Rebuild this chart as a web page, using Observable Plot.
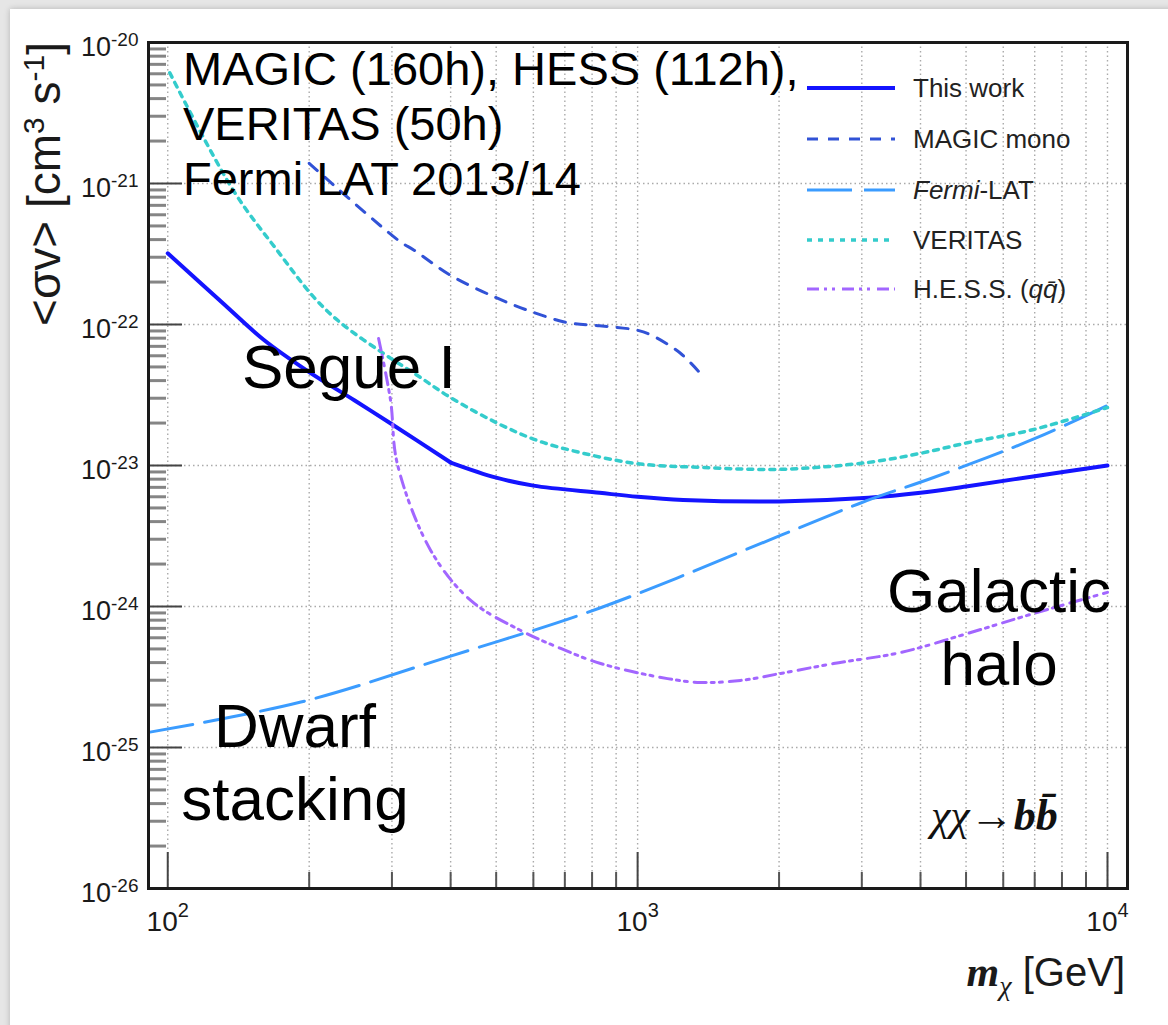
<!DOCTYPE html>
<html><head><meta charset="utf-8">
<script src="https://cdn.jsdelivr.net/npm/d3@7"></script>
<script src="https://cdn.jsdelivr.net/npm/@observablehq/plot@0.6"></script>
<style>
html,body{margin:0;padding:0;background:#e6e6e6;}
#wrap{position:relative;width:1168px;height:1025px;overflow:hidden;background:#e6e6e6;}
#paper{position:absolute;left:10px;top:9px;width:1180px;height:1040px;background:#fff;box-shadow:0 0 6px rgba(0,0,0,0.22);}
#chart{position:absolute;left:0;top:0;}
</style></head><body>
<div id="wrap"><div id="paper"></div><div id="chart"></div></div>
<script>
// ---- axis ticks ----
const xMajor = [100, 1000, 10000];
const xMinor = [200, 300, 400, 500, 600, 700, 800, 900, 2000, 3000, 4000, 5000, 6000, 7000, 8000, 9000];
const yMajor = [1e-26, 1e-25, 1e-24, 1e-23, 1e-22, 1e-21, 1e-20];
const yGridDecades = [1e-25, 1e-24, 1e-23, 1e-22, 1e-21];
const yMinorMantissa = [2, 3, 4, 5, 6, 7, 8, 9];
const yMinorDecades = [-26, -25, -24, -23, -22, -21];
const yMinor = yMinorDecades.flatMap(e => yMinorMantissa.map(m => +(m + "e" + e)));
const xGrid = [...xMajor, ...xMinor];

// ---- series (m_chi in GeV, <sigma v> in cm^3 s^-1) ----
// "This work" has a kink at 400 GeV: two pieces, joined at the kink
const thisWorkMass   = [100, 130, 160, 200, 250, 300, 400, 500, 600, 830, 1000, 1250, 2000, 3100, 4000, 5000, 7000, 10000];
const thisWorkSigmaV = [3.2e-22, 1.45e-22, 7.8e-23, 4.6e-23, 2.89e-23, 1.96e-23, 1.05e-23, 8.2e-24, 7.2e-24, 6.4e-24, 6.0e-24, 5.7e-24, 5.56e-24, 5.9e-24, 6.4e-24, 7.1e-24, 8.4e-24, 1.0e-23];
const thisWorkKink = 400;

const magicMonoMass   = [200, 310, 335, 400, 500, 600, 710, 830, 1000, 1070, 1230, 1360];
const magicMonoSigmaV = [1.39e-21, 3.94e-22, 3.35e-22, 2.23e-22, 1.55e-22, 1.22e-22, 1.03e-22, 9.8e-23, 9.1e-23, 8.4e-23, 6.3e-23, 4.5e-23];

const fermiMass   = [91, 192, 400, 834, 2014, 3084, 4266, 7096, 10000];
const fermiSigmaV = [1.28e-25, 2.1e-25, 4.45e-25, 9.8e-25, 3.19e-24, 5.65e-24, 8.22e-24, 1.58e-23, 2.67e-23];

const veritasMass   = [101, 138, 171, 205, 234, 288, 340, 400, 504, 613, 767, 1000, 1361, 2014, 3084, 4000, 5035, 6965, 10000];
const veritasSigmaV = [6.1e-21, 8.9e-22, 3.35e-22, 1.55e-22, 1.02e-22, 6.22e-23, 4.35e-23, 3.03e-23, 1.99e-23, 1.5e-23, 1.22e-23, 1.03e-23, 9.7e-24, 9.4e-24, 1.05e-23, 1.22e-23, 1.45e-23, 1.8e-23, 2.58e-23];

const hessMass   = [281, 298, 308, 363, 442, 564, 686, 834, 1158, 1361, 1656, 2014, 2612, 3630, 5035, 6965, 10000];
const hessSigmaV = [7.96e-23, 2.89e-23, 1.03e-23, 2.49e-24, 1.10e-24, 6.76e-25, 5.04e-25, 3.94e-25, 3.08e-25, 2.89e-25, 2.99e-25, 3.35e-25, 3.94e-25, 4.72e-25, 6.44e-25, 8.92e-25, 1.26e-24];

const zip = (m, s) => m.map((d, i) => ({m: d, sv: s[i], seg: 0}));
const thisWorkData = [
  ...zip(thisWorkMass, thisWorkSigmaV).filter(d => d.m <= thisWorkKink),
  ...zip(thisWorkMass, thisWorkSigmaV).filter(d => d.m >= thisWorkKink).map(d => ({...d, seg: 1}))
];

const series = [
  {name: "This work",  data: thisWorkData,                        color: "#1414ff", width: 4,   dash: null},
  {name: "MAGIC mono", data: zip(magicMonoMass, magicMonoSigmaV), color: "#3152d6", width: 3,   dash: "11,10"},
  {name: "Fermi-LAT",  data: zip(fermiMass, fermiSigmaV),         color: "#3b9cff", width: 3,   dash: "45,12"},
  {name: "VERITAS",    data: zip(veritasMass, veritasSigmaV),     color: "#34cccc", width: 3.5, dash: "5,6"},
  {name: "H.E.S.S.",   data: zip(hessMass, hessSigmaV),           color: "#a266ff", width: 3,   dash: "12,5,3,5,3,7"}
];

const W = 1168, H = 1025, mL = 148, mR = 41, mT = 42, mB = 137;
const PW = W - mL - mR, PH = H - mT - mB;
const expFmt = d => "10^" + Math.round(Math.log10(d));

const svg = Plot.plot({
  width: W, height: H,
  marginLeft: mL, marginRight: mR, marginTop: mT, marginBottom: mB,
  x: {type: "log", domain: [91, 11030]},
  y: {type: "log", domain: [1e-26, 1e-20]},
  style: {background: "transparent", fontFamily: "'Liberation Sans', Arial, sans-serif", color: "#1a1a1a"},
  marks: [
    Plot.ruleX(xGrid, {stroke: "#aaaaaa", strokeWidth: 1.4, strokeDasharray: "1.5,3"}),
    Plot.ruleY(yGridDecades, {stroke: "#aaaaaa", strokeWidth: 1.4, strokeDasharray: "1.5,3"}),
    Plot.ruleX(xMajor, {stroke: "#444", strokeWidth: 2, insetTop: PH - 36}),
    Plot.ruleX(xMinor, {stroke: "#555", strokeWidth: 2, insetTop: PH - 16}),
    Plot.ruleY(yMajor, {stroke: "#444", strokeWidth: 2.2, insetRight: PW - 34}),
    Plot.ruleY(yMinor, {stroke: "#858585", strokeWidth: 3, insetRight: PW - 18}),
    ...series.map(s => Plot.line(s.data, {
      x: "m", y: "sv", z: "seg", stroke: s.color, strokeWidth: s.width,
      strokeDasharray: s.dash, curve: "catmull-rom", clip: true
    })),
    Plot.frame({stroke: "#1a1a1a", strokeWidth: 3}),
    Plot.axisX({ticks: xMajor, tickSize: 0, tickPadding: 23, fontSize: 28, tickFormat: expFmt, label: null}),
    Plot.axisY({ticks: yMajor, tickSize: 0, tickPadding: 10, fontSize: 27, tickFormat: expFmt, label: null})
  ]
});
document.getElementById("chart").appendChild(svg);

// ---- superscripts for tick labels ----
const NS = "http://www.w3.org/2000/svg";
function supLabels(sel, dyBase, dySup, supSize) {
  svg.querySelectorAll(sel).forEach(t => {
    const s = t.textContent, i = s.indexOf("^");
    if (i < 0) return;
    t.textContent = "";
    const a = document.createElementNS(NS, "tspan");
    a.textContent = s.slice(0, i);
    if (dyBase) a.setAttribute("dy", dyBase);
    const b = document.createElementNS(NS, "tspan");
    b.textContent = s.slice(i + 1);
    b.setAttribute("dy", dySup);
    b.setAttribute("font-size", supSize);
    t.append(a, b);
  });
}
supLabels('g[aria-label="x-axis tick label"] text', 0, -14, 20);
supLabels('g[aria-label="y-axis tick label"] text', 5, -10, 19);

// ---- overlay: titles, annotations, legend ----
const root = d3.select(svg).append("g").attr("text-anchor", "start");
const sans = "'Liberation Sans', Arial, sans-serif";
const serif = "'Liberation Serif', 'Times New Roman', serif";

// y title
const yt = root.append("text").attr("transform", `translate(60,${mT}) rotate(-90)`)
  .attr("text-anchor", "end").attr("font-family", sans).attr("font-size", 46).attr("fill", "#1a1a1a");
yt.append("tspan").text("<σv> [cm");
yt.append("tspan").attr("dy", -16).attr("font-size", 30).text("3");
yt.append("tspan").attr("dy", 16).text(" s");
yt.append("tspan").attr("dy", -16).attr("font-size", 30).text("-1");
yt.append("tspan").attr("dy", 16).text("]");

// x title
const xt = root.append("text").attr("x", 1125).attr("y", 986).attr("text-anchor", "end")
  .attr("fill", "#1a1a1a").attr("font-size", 40);
xt.append("tspan").attr("font-family", serif).attr("font-weight", "bold").attr("font-style", "italic").attr("font-size", 42).text("m");
xt.append("tspan").attr("font-family", serif).attr("font-style", "italic").attr("font-size", 28).attr("dy", 9).text("χ");
xt.append("tspan").attr("font-family", sans).attr("dy", -9).text(" [GeV]");

// annotations
const notes = [
  {lines: ["MAGIC (160h), HESS (112h),", "VERITAS (50h)", "Fermi LAT 2013/14"], x: 183, y: 85, size: 47, lh: 55, anchor: "start"},
  {lines: ["Segue I"], x: 242, y: 388, size: 62, lh: 73, anchor: "start"},
  {lines: ["Galactic", "halo"], x: 999, y: 612, size: 62, lh: 73, anchor: "middle"},
  {lines: ["Dwarf", "stacking"], x: 295, y: 747, size: 62, lh: 73, anchor: "middle"}
];
for (const n of notes) {
  n.lines.forEach((l, i) => root.append("text").attr("x", n.x).attr("y", n.y + i * n.lh)
    .attr("text-anchor", n.anchor).attr("font-family", sans).attr("font-size", n.size).attr("fill", "#000").text(l));
}

// channel label
const ch = root.append("text").attr("x", 931).attr("y", 830).attr("text-anchor", "start")
  .attr("font-family", serif).attr("font-size", 44).attr("fill", "#111");
ch.append("tspan").attr("font-style", "italic").text("χχ");
ch.append("tspan").text("→");
ch.append("tspan").attr("font-style", "italic").attr("font-weight", "bold").text("bb\u0304");

// legend
const legendY = [88, 139, 190, 240, 289];
series.forEach((s, i) => {
  const y = legendY[i];
  root.append("line").attr("x1", 807).attr("x2", 895).attr("y1", y).attr("y2", y)
    .attr("stroke", s.color).attr("stroke-width", s.width).attr("stroke-dasharray", s.dash);
  const t = root.append("text").attr("x", 913).attr("y", y).attr("dy", "0.36em").attr("text-anchor", "start")
    .attr("font-family", sans).attr("font-size", 26).attr("fill", "#222");
  if (s.name === "Fermi-LAT") {
    t.append("tspan").attr("font-style", "italic").text("Fermi");
    t.append("tspan").text("-LAT");
  } else if (s.name === "H.E.S.S.") {
    t.append("tspan").text("H.E.S.S. (");
    t.append("tspan").attr("font-style", "italic").text("qq\u0304");
    t.append("tspan").text(")");
  } else {
    t.text(s.name);
  }
});
</script>
</body></html>
